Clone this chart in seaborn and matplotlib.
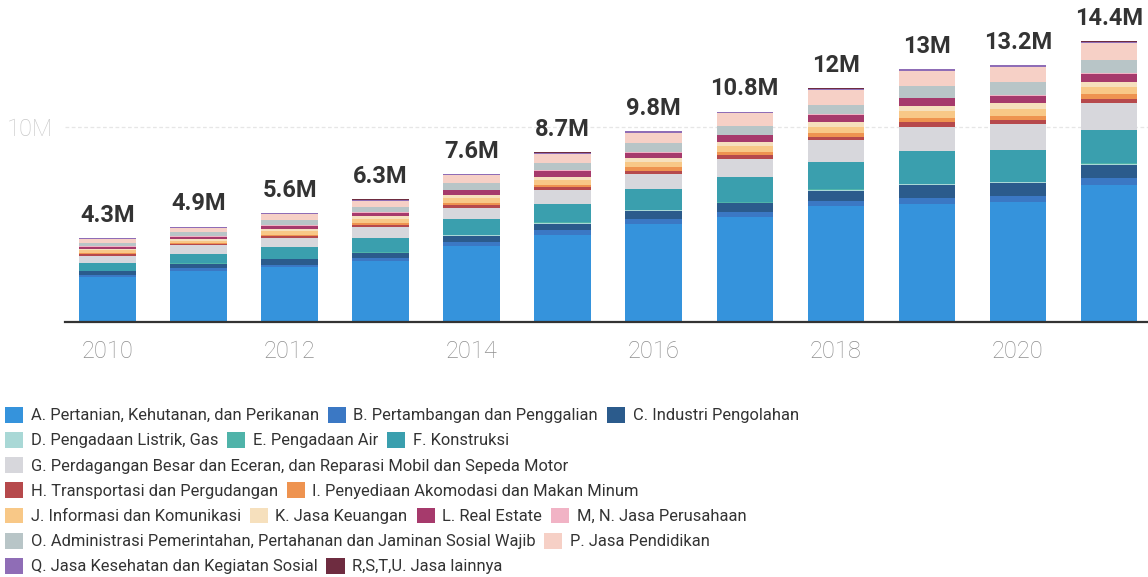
import matplotlib
matplotlib.use("Agg")
import pandas as pd
import matplotlib.pyplot as plt
from matplotlib.patches import Patch
import seaborn as sns

sns.set_style('white')
plt.rcParams['font.family'] = ['Roboto', 'DejaVu Sans']

# Data (juta)
years = [2010, 2011, 2012, 2013, 2014, 2015, 2016, 2017, 2018, 2019, 2020, 2021]

sectors = [
    "A. Pertanian, Kehutanan, dan Perikanan",
    "B. Pertambangan dan Penggalian",
    "C. Industri Pengolahan",
    "D. Pengadaan Listrik, Gas",
    "E. Pengadaan Air",
    "F. Konstruksi",
    "G. Perdagangan Besar dan Eceran, dan Reparasi Mobil dan Sepeda Motor",
    "H. Transportasi dan Pergudangan",
    "I. Penyediaan Akomodasi dan Makan Minum",
    "J. Informasi dan Komunikasi",
    "K. Jasa Keuangan",
    "L. Real Estate",
    "M, N. Jasa Perusahaan",
    "O. Administrasi Pemerintahan, Pertahanan dan Jaminan Sosial Wajib",
    "P. Jasa Pendidikan",
    "Q. Jasa Kesehatan dan Kegiatan Sosial",
    "R,S,T,U. Jasa lainnya",
]

colors = [
    "#3593dc", "#3b78c4", "#2b5b8c", "#a9d8d6", "#4fb3a9", "#3a9fae",
    "#d7d7dc", "#b6494c", "#ee9350", "#f8c887", "#f6e0bd", "#a63a6c",
    "#f1b3c5", "#b8c5c7", "#f6d0c6", "#8f6db6", "#6e2c40",
]

A = [2.30, 2.62, 2.81, 3.11, 3.92, 4.49, 5.04, 5.38, 5.93, 6.05, 6.18, 7.05]
B = [0.10, 0.13, 0.14, 0.16, 0.19, 0.22, 0.25, 0.27, 0.30, 0.30, 0.31, 0.35]
C = [0.20, 0.22, 0.26, 0.26, 0.31, 0.34, 0.41, 0.44, 0.51, 0.68, 0.63, 0.68]
D = [0.02, 0.02, 0.02, 0.03, 0.03, 0.03, 0.03, 0.03, 0.04, 0.04, 0.04, 0.04]
E = [0.02, 0.02, 0.02, 0.02, 0.03, 0.03, 0.03, 0.03, 0.03, 0.03, 0.03, 0.03]
F = [0.37, 0.46, 0.58, 0.75, 0.83, 0.95, 1.05, 1.30, 1.39, 1.68, 1.64, 1.72]
G = [0.38, 0.48, 0.46, 0.55, 0.55, 0.72, 0.80, 0.94, 1.14, 1.25, 1.33, 1.37]
H = [0.08, 0.06, 0.10, 0.11, 0.13, 0.13, 0.16, 0.17, 0.18, 0.22, 0.21, 0.22]
I = [0.08, 0.07, 0.10, 0.11, 0.13, 0.14, 0.16, 0.17, 0.18, 0.22, 0.21, 0.22]
J = [0.13, 0.10, 0.16, 0.20, 0.23, 0.24, 0.27, 0.30, 0.32, 0.37, 0.37, 0.37]
K = [0.09, 0.07, 0.12, 0.14, 0.16, 0.17, 0.20, 0.21, 0.23, 0.27, 0.27, 0.27]
L = [0.10, 0.13, 0.17, 0.17, 0.24, 0.29, 0.29, 0.34, 0.38, 0.38, 0.39, 0.43]
MN = [0.02, 0.02, 0.02, 0.02, 0.03, 0.03, 0.03, 0.03, 0.03, 0.03, 0.03, 0.03]
O = [0.17, 0.20, 0.28, 0.28, 0.33, 0.38, 0.48, 0.45, 0.50, 0.60, 0.67, 0.68]
P = [0.20, 0.24, 0.30, 0.32, 0.42, 0.46, 0.52, 0.66, 0.75, 0.78, 0.79, 0.84]
Q = [0.03, 0.04, 0.04, 0.05, 0.05, 0.06, 0.06, 0.06, 0.07, 0.08, 0.08, 0.08]
R = [0.01, 0.02, 0.02, 0.02, 0.02, 0.02, 0.02, 0.02, 0.02, 0.02, 0.02, 0.02]

values = [A, B, C, D, E, F, G, H, I, J, K, L, MN, O, P, Q, R]

df = pd.DataFrame(dict(zip(sectors, values)), index=years)
df.index.name = 'Tahun'
totals = df.sum(axis=1)

# cumulative sums -> overlapping bars give the stacked look
cum = df.cumsum(axis=1).reset_index()
long = cum.melt(id_vars='Tahun', var_name='Sektor', value_name='Nilai')

fig = plt.figure(figsize=(11.48, 5.77), dpi=100)
ax = fig.add_axes([65 / 1148, 255 / 577, 1083 / 1148, 302 / 577])

sns.barplot(data=long, x='Tahun', y='Nilai', hue='Sektor', hue_order=sectors[::-1],
            palette=dict(zip(sectors, colors)), dodge=False, width=0.62,
            linewidth=0, saturation=1, legend=False, ax=ax)

ax.set_ylim(0, 15.5)
ax.set_xlim(-0.467, 11.43)
ax.axhline(10, color='#e6e6e6', lw=0.9, ls=(0, (3, 2)), zorder=0)

ax.set_yticks([10])
ax.set_yticklabels(['10M'])
ax.set_xticks(range(0, 12, 2))
ax.set_xticklabels([str(y) for y in years[::2]])
ax.tick_params(axis='y', length=0, pad=9, labelsize=17, labelcolor='#c8c8c8')
ax.tick_params(axis='x', length=0, pad=13, labelsize=17, labelcolor='#8e8e8e')
for lab in ax.get_xticklabels() + ax.get_yticklabels():
    lab.set_fontweight('light')
ax.set_xlabel('')
ax.set_ylabel('')

sns.despine(ax=ax, left=True, top=True, right=True)
ax.spines['bottom'].set_color('#333333')
ax.spines['bottom'].set_linewidth(1.6)

# totals above the bars (container 0 is the tallest layer)
labels = [f"{t:.1f}".rstrip('0').rstrip('.') + "M" for t in totals]
ax.bar_label(ax.containers[0], labels=labels, padding=8, fontsize=17,
             fontweight='bold', color='#333333')

# legend, wrapped in rows like the original
legend_rows = [[0, 1, 2], [3, 4, 5], [6], [7, 8], [9, 10, 11, 12], [13, 14], [15, 16]]
for r, idx in enumerate(legend_rows):
    handles = [Patch(facecolor=colors[i], edgecolor='none', label=sectors[i]) for i in idx]
    yc = (415 + r * 25.2) / 577
    fig.legend(handles=handles, loc='center left', bbox_to_anchor=(0.0, 1 - yc),
               ncol=len(idx), frameon=False, fontsize=11.9, handlelength=1.1,
               handleheight=1.1, handletextpad=0.45, columnspacing=0.55,
               borderpad=0.0, borderaxespad=0.3, labelcolor='#333333')

fig.savefig('out.png', dpi=100, facecolor='white')
